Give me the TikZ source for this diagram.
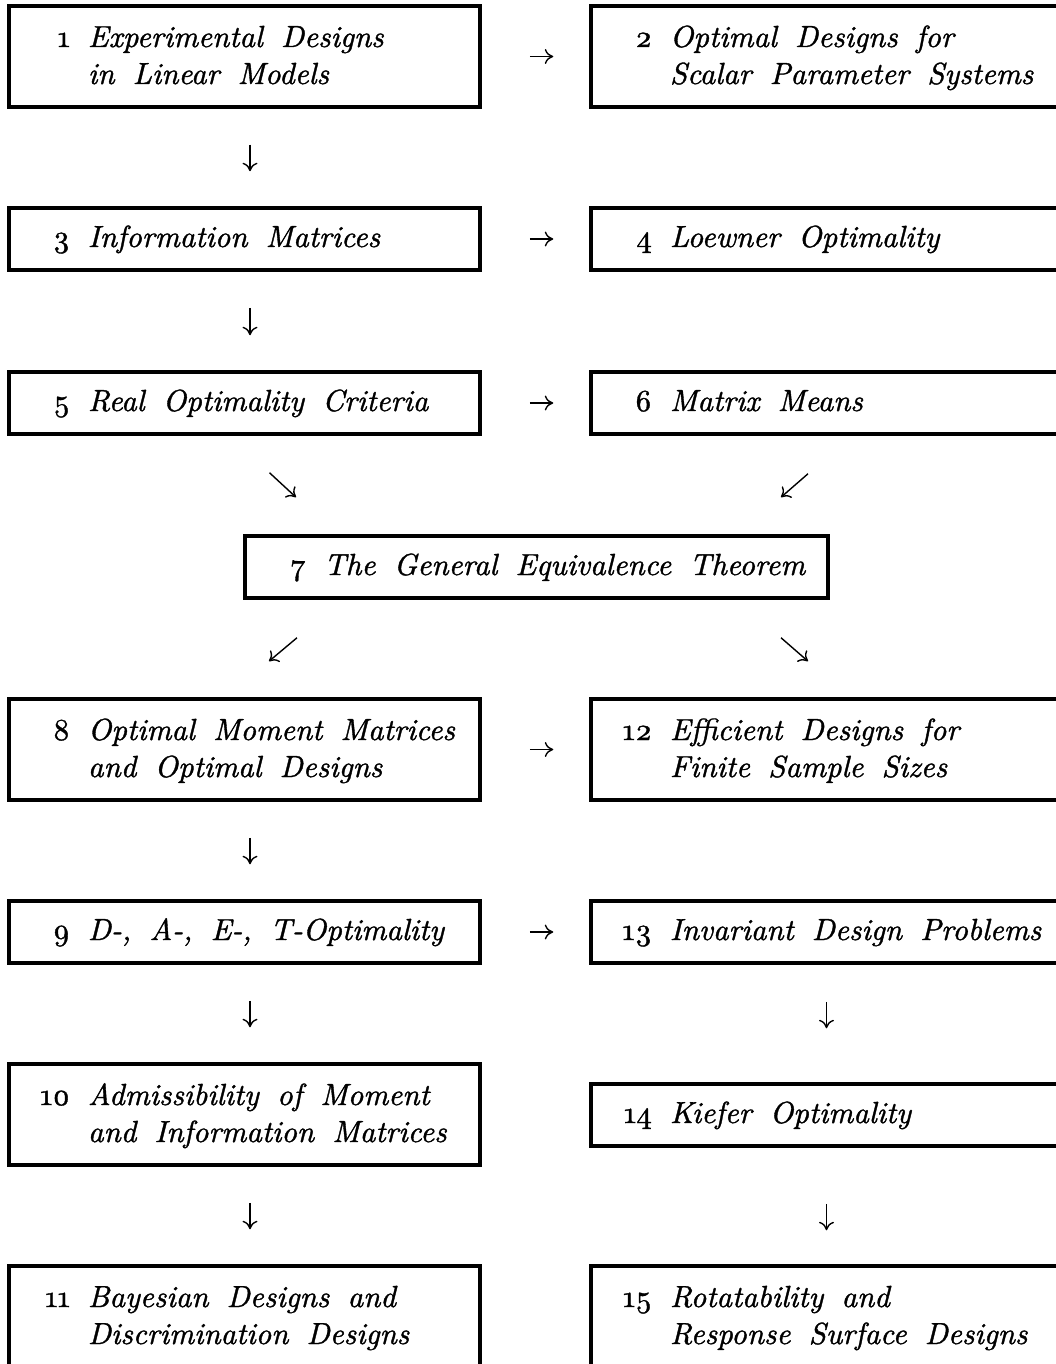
\documentclass[tikz,border=0pt]{standalone}
\usepackage{fontspec}
\usetikzlibrary{arrows.meta}
\newfontface\chapit{lmroman10-italic.otf}[FakeBold=1.2]
\newfontface\chapnum{lmroman10-regular.otf}[Numbers=OldStyle, FakeBold=1.2]
\newcommand\boxfont{\fontsize{30.5}{37}\selectfont\chapit\spaceskip=0.6em plus 0.1em\relax}
\newcommand\ent[3][471pt]{\makebox[#1][l]{\hspace*{61pt}\llap{\chapnum #2}\hspace{18pt}\begin{tabular}[t]{@{}l@{}}#3\end{tabular}}}
\tikzset{
  chap/.style={draw, line width=3.5pt, inner sep=0pt, minimum width=471pt, font=\boxfont},
  one/.style={chap, minimum height=62pt, text height=22pt, text depth=6pt},
  two/.style={chap, minimum height=101pt, text height=25pt, text depth=44pt},
  arr/.style={line width=1.4pt, -{To[length=8.5pt,width=15pt]}},
  vsh/.style={shorten <=36pt, shorten >=35pt},
  hsh/.style={shorten <=48pt, shorten >=36pt}
}
\begin{document}
\begin{tikzpicture}[x=1pt,y=-1pt]
\clip (0,0) rectangle (1056,1364);
\fill[white] (0,0) rectangle (1056,1364);
% left column
\node[two] (b1) at (244.5,56.5) {\ent{1}{Experimental Designs\\in Linear Models}};
\node[one] (b3) at (244.5,239) {\ent{3}{Information Matrices}};
\node[one] (b5) at (244.5,403) {\ent{5}{Real Optimality Criteria}};
\node[two] (b8) at (244.5,749.5) {\ent{8}{Optimal Moment Matrices\\and Optimal Designs}};
\node[one] (b9) at (244.5,932) {\ent{9}{D-, A-, E-, T-Optimality}};
\node[two] (b10) at (244.5,1114.5) {\ent{10}{Admissibility of Moment\\and Information Matrices}};
\node[two] (b11) at (244.5,1316.5) {\ent{11}{Bayesian Designs and\\Discrimination Designs}};
% right column
\node[two] (b2) at (826.5,56.5) {\ent{2}{Optimal Designs for\\Scalar Parameter Systems}};
\node[one] (b4) at (826.5,239) {\ent{4}{Loewner Optimality}};
\node[one] (b6) at (826.5,403) {\ent{6}{Matrix Means}};
\node[two] (b12) at (826.5,749.5) {\ent{12}{Efficient Designs for\\Finite Sample Sizes}};
\node[one] (b13) at (826.5,932) {\ent{13}{Invariant Design Problems}};
\node[one] (b14) at (826.5,1115) {\ent{14}{Kiefer Optimality}};
\node[two] (b15) at (826.5,1316.5) {\ent{15}{Rotatability and\\Response Surface Designs}};
% centre
\node[one, minimum width=583pt] (b7) at (536.5,567) {\ent[583pt]{7}{The General Equivalence Theorem}};
% horizontal arrows
\draw[arr,hsh] (b1.east) -- (b2.west);
\draw[arr,hsh] (b3.east) -- (b4.west);
\draw[arr,hsh] (b5.east) -- (b6.west);
\draw[arr,hsh] (b8.east) -- (b12.west);
\draw[arr,hsh] (b9.east) -- (b13.west);
% vertical arrows
\draw[arr,vsh] ([xshift=5.5pt]b1.south) -- ([xshift=5.5pt]b3.north);
\draw[arr,vsh] ([xshift=5.5pt]b3.south) -- ([xshift=5.5pt]b5.north);
\draw[arr,vsh] ([xshift=5.5pt]b8.south) -- ([xshift=5.5pt]b9.north);
\draw[arr,vsh] ([xshift=5.5pt]b9.south) -- ([xshift=5.5pt]b10.north);
\draw[arr,vsh] ([xshift=5.5pt]b10.south) -- ([xshift=5.5pt]b11.north);
\draw[arr,shorten <=37pt,shorten >=54pt] (b13.south) -- (b14.north);
\draw[arr,shorten <=56pt,shorten >=34pt] (b14.south) -- (b15.north);
% diagonal arrows
\draw[arr] ([shift={(25,37)}]b5.south) -- ([shift={(-240.5,-37)}]b7.north);
\draw[arr] ([shift={(-18.5,38)}]b6.south) -- ([shift={(244.5,-37)}]b7.north);
\draw[arr] ([shift={(-239.5,38)}]b7.south) -- ([shift={(24.5,-36)}]b8.north);
\draw[arr] ([shift={(244.5,38)}]b7.south) -- ([shift={(-18.5,-36)}]b12.north);
\end{tikzpicture}
\end{document}
